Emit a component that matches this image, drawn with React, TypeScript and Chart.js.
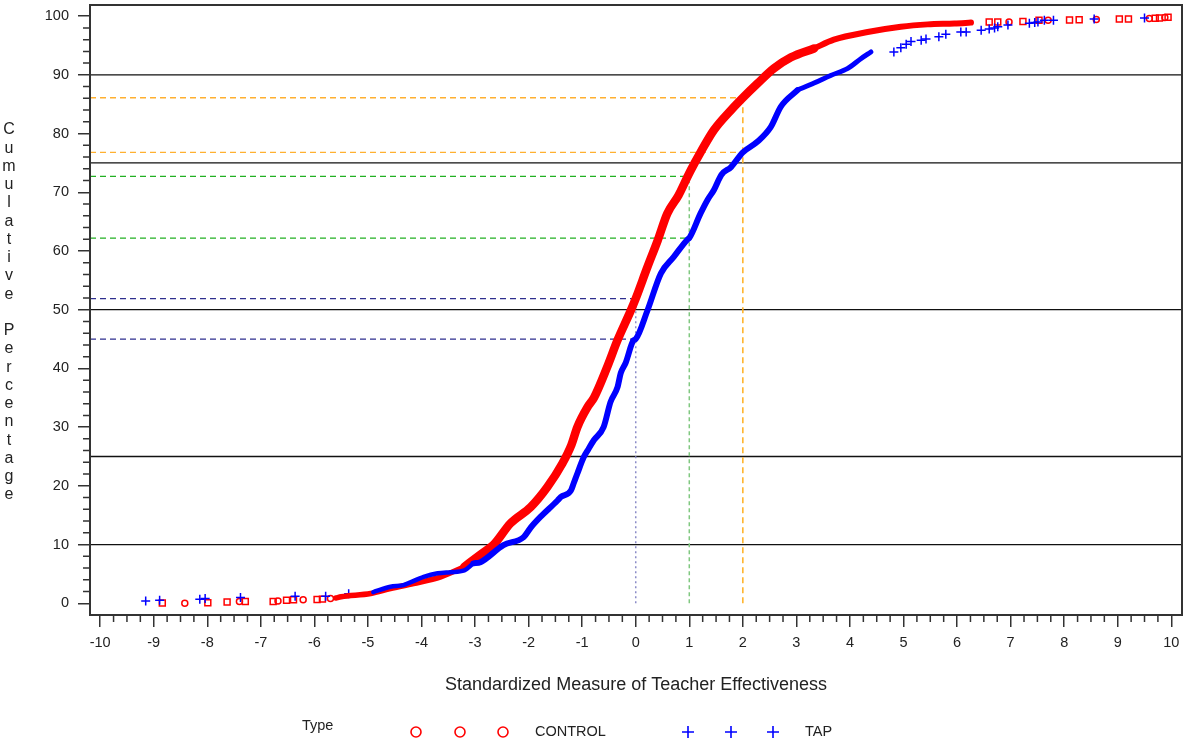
import React, { useEffect, useRef } from "react";
import { Chart, registerables } from "chart.js";

Chart.register(...registerables);

// ---------- data ----------
const xTickValues = [-10, -9, -8, -7, -6, -5, -4, -3, -2, -1, 0, 1, 2, 3, 4, 5, 6, 7, 8, 9, 10];
const yTickValues = [0, 10, 20, 30, 40, 50, 60, 70, 80, 90, 100];

// CONTROL – dense cumulative curve: low tail, main body, high tail
const controlLowX = [-5.6, -5.5, -4.95, -4.58, -4.15, -3.64, -3.2];
const controlLowY = [0.9, 1.1, 1.65, 2.5, 3.35, 4.5, 6.2];
const controlMainX = [-3.2, -2.9, -2.65, -2.34, -1.96, -1.65, -1.37, -1.2, -1.09, -0.9, -0.78, -0.53, -0.34, -0.09, 0, 0.22, 0.41, 0.59, 0.8, 0.97, 1.03, 1.21, 1.46, 1.78, 2.0, 2.27, 2.58, 2.9, 3.33];
const controlMainY = [6.2, 8.3, 10, 13.6, 16.4, 19.8, 23.8, 27, 30, 33.4, 35, 40.3, 44.8, 49.9, 51.9, 57.3, 61.8, 66.4, 69.5, 72.7, 73.8, 76.8, 80.6, 84, 86.1, 88.5, 91.1, 93.0, 94.5];
const controlHighX = [3.33, 3.7, 4.33, 4.95, 5.45, 5.95, 6.26];
const controlHighY = [94.5, 96.0, 97.3, 98.2, 98.6, 98.75, 98.9];
// CONTROL – sparse tail markers
const controlTailX = [-8.84, -8.42, -7.99, -7.63, -7.4, -7.29, -6.77, -6.68, -6.52, -6.39, -6.21, -5.95, -5.85, -5.7, 6.6, 6.76, 6.97, 7.23, 7.53, 7.7, 8.1, 8.28, 8.6, 9.03, 9.2, 9.59, 9.7, 9.78, 9.88, 9.94];
const controlTailY = [0.05, 0.0, 0.1, 0.2, 0.3, 0.3, 0.3, 0.4, 0.5, 0.6, 0.6, 0.65, 0.7, 0.8, 99.0, 99.0, 99.0, 99.1, 99.3, 99.3, 99.35, 99.4, 99.45, 99.5, 99.5, 99.6, 99.65, 99.7, 99.75, 99.8];

// TAP – dense cumulative curve: low tail, main body, high tail
const tapLowX = [-4.9, -4.58, -4.34, -3.96, -3.7, -3.46, -3.2, -3.03];
const tapLowY = [1.9, 2.8, 3.1, 4.5, 5.1, 5.3, 5.6, 6.8];
const tapMainX = [-3.03, -2.9, -2.47, -2.09, -1.96, -1.78, -1.46, -1.4, -1.21, -1.16, -1.09, -0.97, -0.9, -0.78, -0.6, -0.47, -0.34, -0.28, -0.19, -0.04, 0.0, 0.22, 0.47, 0.71, 0.97, 1.0, 1.21, 1.34, 1.46, 1.6, 1.78, 2.0, 2.27, 2.52, 2.71, 3.02];
const tapMainY = [6.8, 7.0, 9.9, 11.3, 12.9, 14.7, 17.5, 18.1, 19.2, 20.4, 22.1, 24.9, 26, 27.8, 30, 34.3, 36.8, 39.2, 40.9, 44.8, 45.0, 49.9, 56.2, 59, 62.0, 62.2, 66.4, 68.7, 70.4, 73, 74.3, 76.8, 78.6, 81.1, 84.6, 87.4];
const tapHighX = [3.02, 3.33, 3.64, 3.96, 4.21, 4.39];
const tapHighY = [87.4, 88.6, 89.9, 91.1, 92.8, 93.9];
// TAP – sparse tail markers
const tapTailX = [-9.15, -8.89, -8.14, -8.04, -7.38, -6.36, -5.79, -5.36, 4.82, 4.95, 5.05, 5.14, 5.33, 5.42, 5.66, 5.79, 6.07, 6.17, 6.45, 6.6, 6.7, 6.76, 6.95, 7.35, 7.45, 7.51, 7.63, 7.8, 8.56, 9.5];
const tapTailY = [0.4, 0.5, 0.7, 0.8, 1.0, 1.2, 1.2, 1.6, 93.9, 94.6, 95.2, 95.7, 95.9, 96.1, 96.5, 96.9, 97.3, 97.3, 97.6, 97.8, 98.0, 98.2, 98.5, 98.8, 98.9, 99.0, 99.3, 99.3, 99.5, 99.7];

// reference levels
const solidLevels = [10, 25, 50, 75, 90];
const cutPoints = [0, 1, 2];
const controlAtCut = [51.9, 72.7, 86.1];
const tapAtCut = [45.0, 62.2, 76.8];

// ---------- styling ----------
const X_MIN = -10.19;
const X_MAX = 10.2;
const Y_MIN = -2;
const Y_MAX = 101.9;
const FONT = "'Liberation Sans', Arial, sans-serif";
const hColors = ["#2E2E8E", "#22B022", "#FFB030"];
const vColors = ["#8C8CC8", "#80C880", "#FFB020"];
const vDash = [[2, 3], [4, 3], [6, 4]];

const zip = (xs: number[], ys: number[]) => xs.map((x, i) => ({ x, y: ys[i] }));

const decorPlugin = {
  id: "decor",
  afterDatasetsDraw(chart: any) {
    const { ctx, chartArea: a, scales } = chart;
    const x = scales.x;
    const y = scales.y;
    ctx.save();
    ctx.strokeStyle = "#333";
    ctx.lineWidth = 2;
    ctx.strokeRect(a.left, a.top, a.right - a.left, a.bottom - a.top);
    ctx.lineWidth = 1.5;
    ctx.beginPath();
    for (let i = 0; i < xTickValues.length - 1; i++) {
      for (let k = 1; k < 4; k++) {
        const px = x.getPixelForValue(xTickValues[i] + k * 0.25);
        ctx.moveTo(px, a.bottom);
        ctx.lineTo(px, a.bottom + 7);
      }
    }
    for (let i = 0; i < yTickValues.length - 1; i++) {
      for (let k = 1; k < 5; k++) {
        const py = y.getPixelForValue(yTickValues[i] + k * 2);
        ctx.moveTo(a.left, py);
        ctx.lineTo(a.left - 7, py);
      }
    }
    ctx.stroke();
    ctx.restore();
  },
  afterDraw(chart: any) {
    const { ctx } = chart;
    ctx.save();
    ctx.fillStyle = "#222";
    ctx.font = `16px ${FONT}`;
    ctx.textAlign = "center";
    ctx.textBaseline = "middle";
    const title = "Cumulative Percentage";
    const step = 18.25;
    for (let i = 0; i < title.length; i++) {
      ctx.fillText(title[i], 9, 130 + i * step);
    }
    ctx.font = `18px ${FONT}`;
    ctx.fillText("Standardized Measure of Teacher Effectiveness", 636, 685);
    ctx.font = `14.5px ${FONT}`;
    ctx.textAlign = "left";
    ctx.fillText("Type", 302, 726);
    ctx.fillText("CONTROL", 535, 732);
    ctx.fillText("TAP", 805, 732);
    ctx.strokeStyle = "#FF0000";
    ctx.lineWidth = 1.6;
    [416, 460, 503].forEach((cx) => {
      ctx.beginPath();
      ctx.arc(cx, 732, 5, 0, Math.PI * 2);
      ctx.stroke();
    });
    ctx.strokeStyle = "#0000FF";
    [688, 731, 773].forEach((cx) => {
      ctx.beginPath();
      ctx.moveTo(cx - 6, 732);
      ctx.lineTo(cx + 6, 732);
      ctx.moveTo(cx, 726);
      ctx.lineTo(cx, 738);
      ctx.stroke();
    });
    ctx.restore();
  },
};

function curve(label: string, xs: number[], ys: number[], color: string, width: number, order: number) {
  return {
    type: "line",
    label,
    data: zip(xs, ys),
    borderColor: color,
    borderWidth: width,
    pointRadius: 0,
    borderJoinStyle: "round",
    borderCapStyle: "round",
    cubicInterpolationMode: "monotone",
    order,
  };
}

export default function App() {
  const ref = useRef<HTMLCanvasElement | null>(null);

  useEffect(() => {
    if (!ref.current) return;
    const datasets: any[] = [];

    datasets.push(curve("TAP", tapMainX, tapMainY, "#0000FF", 6, 0));
    datasets.push(curve("TAP low", tapLowX, tapLowY, "#0000FF", 4.5, 0));
    datasets.push(curve("TAP high", tapHighX, tapHighY, "#0000FF", 5, 0));
    datasets.push(curve("CONTROL", controlMainX, controlMainY, "#FF0000", 8.5, 1));
    datasets.push(curve("CONTROL low", controlLowX, controlLowY, "#FF0000", 5.5, 1));
    datasets.push(curve("CONTROL high", controlHighX, controlHighY, "#FF0000", 6, 1));

    datasets.push({
      type: "scatter",
      label: "CONTROL tail",
      data: zip(controlTailX, controlTailY),
      pointStyle: (c: any) => (c.dataIndex % 3 === 1 ? "circle" : "rect"),
      pointRadius: (c: any) => (c.dataIndex % 3 === 1 ? 3 : 4.2),
      pointBorderColor: "#FF0000",
      pointBackgroundColor: "rgba(255,255,255,0)",
      pointBorderWidth: 1.5,
      order: 2,
    });
    datasets.push({
      type: "scatter",
      label: "TAP tail",
      data: zip(tapTailX, tapTailY),
      pointStyle: "cross",
      pointRadius: 4.5,
      pointBorderColor: "#0000FF",
      pointBorderWidth: 1.5,
      order: 1.5,
    });

    solidLevels.forEach((lv) => {
      datasets.push({
        type: "line",
        data: [{ x: X_MIN, y: lv }, { x: X_MAX, y: lv }],
        borderColor: "#111",
        borderWidth: 1.3,
        pointRadius: 0,
        order: 20,
      });
    });
    cutPoints.forEach((cp, i) => {
      [controlAtCut[i], tapAtCut[i]].forEach((lv) => {
        datasets.push({
          type: "line",
          data: [{ x: X_MIN, y: lv }, { x: cp, y: lv }],
          borderColor: hColors[i],
          borderWidth: 1.3,
          borderDash: [6, 4],
          pointRadius: 0,
          order: 10,
        });
      });
      datasets.push({
        type: "line",
        data: [{ x: cp, y: 0 }, { x: cp, y: controlAtCut[i] }],
        borderColor: vColors[i],
        borderWidth: 1.5,
        borderDash: vDash[i],
        pointRadius: 0,
        order: 10,
      });
    });

    const chart = new Chart(ref.current, {
      type: "line",
      data: { datasets },
      plugins: [decorPlugin],
      options: {
        responsive: false,
        animation: false,
        events: [],
        layout: { autoPadding: false, padding: { left: 0, top: 5, right: 2, bottom: 90 } },
        plugins: { legend: { display: false }, tooltip: { enabled: false } },
        scales: {
          x: {
            type: "linear",
            min: X_MIN,
            max: X_MAX,
            afterBuildTicks: (s: any) => {
              s.ticks = xTickValues.map((v) => ({ value: v }));
            },
            afterFit: (s: any) => {
              s.height = 40;
              s.paddingLeft = 0;
              s.paddingRight = 0;
              s.paddingTop = 0;
              s.paddingBottom = 0;
            },
            grid: { display: true, drawOnChartArea: false, drawTicks: true, tickLength: 12, color: "#333", lineWidth: 1.5 },
            border: { display: true, color: "#333", width: 2 },
            ticks: {
              autoSkip: false,
              maxRotation: 0,
              padding: 7,
              color: "#222",
              font: { family: FONT, size: 14.5 },
              callback: (v: any) => String(v),
            },
          },
          y: {
            type: "linear",
            min: Y_MIN,
            max: Y_MAX,
            afterBuildTicks: (s: any) => {
              s.ticks = yTickValues.map((v) => ({ value: v }));
            },
            afterFit: (s: any) => {
              s.width = 90;
              s.paddingLeft = 0;
              s.paddingRight = 0;
              s.paddingTop = 0;
              s.paddingBottom = 0;
            },
            grid: { display: true, drawOnChartArea: false, drawTicks: true, tickLength: 12, color: "#333", lineWidth: 1.5 },
            border: { display: true, color: "#333", width: 2 },
            ticks: {
              padding: 9,
              color: "#222",
              font: { family: FONT, size: 14.5 },
              callback: (v: any) => String(v),
            },
          },
        },
      },
    });
    return () => chart.destroy();
  }, []);

  return (
    <div style={{ position: "absolute", left: 0, top: 0, width: 1184, height: 745, background: "#fff" }}>
      <canvas ref={ref} width={1184} height={745} style={{ display: "block", width: 1184, height: 745 }} />
    </div>
  );
}
